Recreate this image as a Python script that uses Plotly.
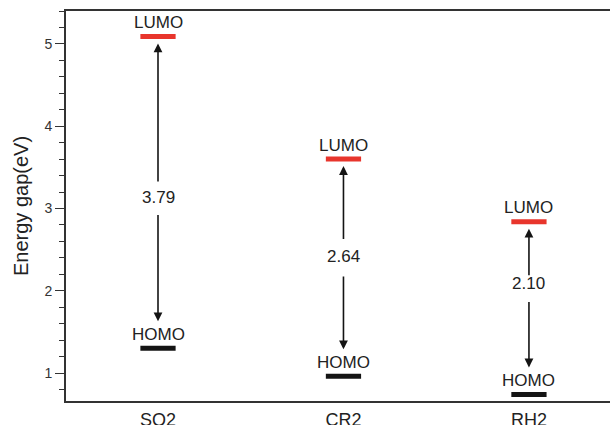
import plotly.graph_objects as go

# Frontier orbital energies (eV) for each dye
compounds = ["SQ2", "CR2", "RH2"]
lumo = [5.09, 3.60, 2.84]
homo = [1.30, 0.96, 0.74]

# Vertical placement of the gap label and the ends of the arrow segments around it
gap_label_y = [3.13, 2.42, 2.085]
upper_tail_y = [3.31, 2.61, 2.17]
lower_tail_y = [2.94, 2.19, 1.88]

FONT = "Liberation Sans, Arial, sans-serif"
TXT = "#222222"
RED = "#e8352c"
BLACK = "#141414"
HALF = 0.095

xs = list(range(len(compounds)))
fig = go.Figure()

# energy level bars
for i in xs:
    fig.add_trace(go.Scatter(x=[i - HALF, i + HALF], y=[lumo[i], lumo[i]], mode="lines",
                             line=dict(color=RED, width=5), hoverinfo="skip", showlegend=False))
    fig.add_trace(go.Scatter(x=[i - HALF, i + HALF], y=[homo[i], homo[i]], mode="lines",
                             line=dict(color=BLACK, width=5), hoverinfo="skip", showlegend=False))

ann = []
for i in xs:
    gap = lumo[i] - homo[i]
    # level names
    ann.append(dict(x=i, y=lumo[i], text="LUMO", showarrow=False, yshift=14,
                    font=dict(family=FONT, size=17, color=TXT)))
    ann.append(dict(x=i, y=homo[i], text="HOMO", showarrow=False, yshift=14,
                    font=dict(family=FONT, size=17, color=TXT)))
    # gap value
    ann.append(dict(x=i, y=gap_label_y[i], text=f"{gap:.2f}", showarrow=False,
                    font=dict(family=FONT, size=17, color=TXT)))
    # arrow up to LUMO
    ann.append(dict(x=i, y=lumo[i], ax=i, ay=upper_tail_y[i], axref="x", ayref="y",
                    text="", showarrow=True, arrowhead=2, arrowsize=1.1, arrowwidth=1.6,
                    arrowcolor=BLACK, standoff=7))
    # arrow down to HOMO
    ann.append(dict(x=i, y=homo[i], ax=i, ay=lower_tail_y[i], axref="x", ayref="y",
                    text="", showarrow=True, arrowhead=2, arrowsize=1.1, arrowwidth=1.6,
                    arrowcolor=BLACK, standoff=27))

fig.update_layout(
    width=610, height=425,
    margin=dict(l=66, r=0, t=11, b=24),
    paper_bgcolor="white", plot_bgcolor="white",
    annotations=ann,
    font=dict(family=FONT, color=TXT),
    xaxis=dict(range=[-0.496, 2.437], tickvals=xs, ticktext=compounds, automargin=False,
               showgrid=False, zeroline=False, showline=True, linecolor="#333333",
               linewidth=2, mirror=True, ticks="", ticklabelstandoff=1,
               tickfont=dict(family=FONT, size=18, color=TXT)),
    yaxis=dict(range=[0.66, 5.4], dtick=1, tick0=0, showgrid=False, zeroline=False,
               automargin=False,
               showline=True, linecolor="#333333", linewidth=2,
               ticks="outside", ticklen=9, tickwidth=1.3, tickcolor="#333333",
               minor=dict(dtick=0.2, ticks="outside", ticklen=5, tickwidth=1.3,
                          tickcolor="#333333", showgrid=False),
               tickfont=dict(family=FONT, size=14, color="#333333"),
               title=dict(text="Energy gap(eV)", standoff=10,
                          font=dict(family=FONT, size=20, color=TXT))),
)

fig.write_html("out.html")
